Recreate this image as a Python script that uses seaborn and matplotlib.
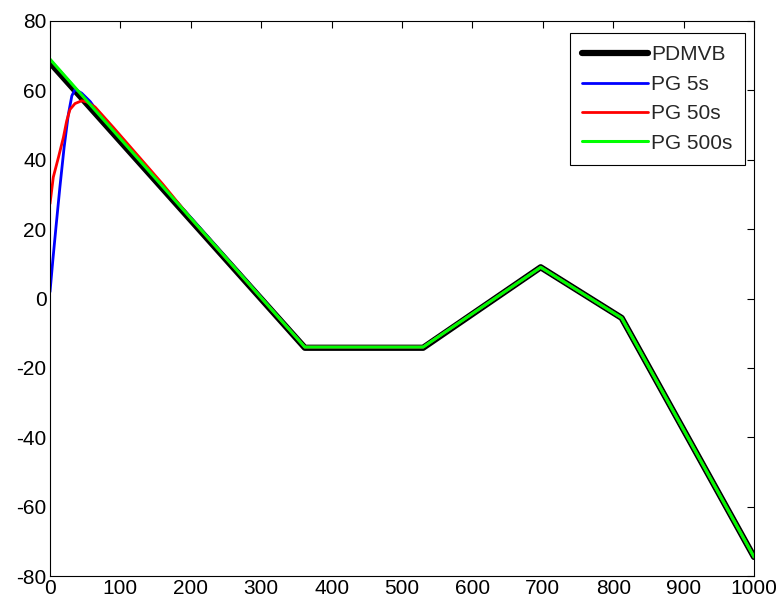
import matplotlib
matplotlib.use("Agg")
import matplotlib.pyplot as plt
import seaborn as sns
import numpy as np

# ---- data ----
pdmvb_x = [0, 362, 530, 697, 812, 1000]
pdmvb_y = [68.0, -14.2, -14.2, 9.0, -5.6, -74.5]

pg5_x = [0, 4, 8.5, 14, 20, 26, 31, 35.5, 45, 57, 70, 362, 530, 697, 812, 1000]
pg5_y = [1.9, 11, 20.6, 32, 43.5, 53, 58.4, 60.3, 59.2, 56.8, 53.2, -14.0, -14.0, 9.0, -5.6, -74.5]

pg50_x = [0, 4.7, 12, 19, 23.7, 28.4, 35.5, 45, 52, 64, 90, 130, 160, 200, 362, 530, 697, 812, 1000]
pg50_y = [27.3, 35, 40.7, 46.4, 51.2, 54.5, 56.2, 57, 56.7, 55.2, 49.3, 40.0, 33.0, 23.1, -14.0, -14.0, 9.0, -5.6, -74.5]

pg500_x = [0, 362, 530, 697, 812, 1000]
pg500_y = [69.0, -14.0, -14.0, 9.0, -5.6, -74.5]

series_labels = ["PDMVB", "PG 5s", "PG 50s", "PG 500s"]
x_ticks = list(range(0, 1001, 100))
y_ticks = list(range(-80, 81, 20))

sns.set_style("white")
plt.rcParams['font.family'] = ['Liberation Sans', 'DejaVu Sans']

FS = 15

fig = plt.figure(figsize=(7.79, 6.08), dpi=100)
ax = fig.add_axes([50/779, 1 - 576/608, 704/779, 555/608])

sns.lineplot(x=pdmvb_x, y=pdmvb_y, ax=ax, color="black", linewidth=4.5,
             label=series_labels[0], sort=False, estimator=None)
sns.lineplot(x=pg5_x, y=pg5_y, ax=ax, color=(0, 0, 1), linewidth=2.0,
             label=series_labels[1], sort=False, estimator=None)
sns.lineplot(x=pg50_x, y=pg50_y, ax=ax, color=(1, 0, 0), linewidth=2.0,
             label=series_labels[2], sort=False, estimator=None)
sns.lineplot(x=pg500_x, y=pg500_y, ax=ax, color=(0, 1, 0), linewidth=2.2,
             label=series_labels[3], sort=False, estimator=None)

ax.set_xlim(0, 1000)
ax.set_ylim(-80, 80)
ax.set_xticks(x_ticks)
ax.set_yticks(y_ticks)
ax.set_xticklabels([str(v) for v in x_ticks])
ax.set_yticklabels([str(v) for v in y_ticks])
ax.tick_params(direction="in", length=5, width=0.8, top=True, right=True,
               labelsize=FS, colors="black", pad=2.5)
for s in ax.spines.values():
    s.set_visible(True)
    s.set_color("black")
    s.set_linewidth(0.8)
ax.set_xlabel("")
ax.set_ylabel("")

leg = ax.legend(loc="upper right", bbox_to_anchor=((745-50)/704, (576-33)/555),
                borderaxespad=0, fancybox=False, framealpha=1, edgecolor="black",
                fontsize=FS, handlelength=3.15, handletextpad=0.15,
                borderpad=0.6, labelspacing=0.5)
leg.get_frame().set_linewidth(0.8)

fig.savefig("out.png", dpi=100)
